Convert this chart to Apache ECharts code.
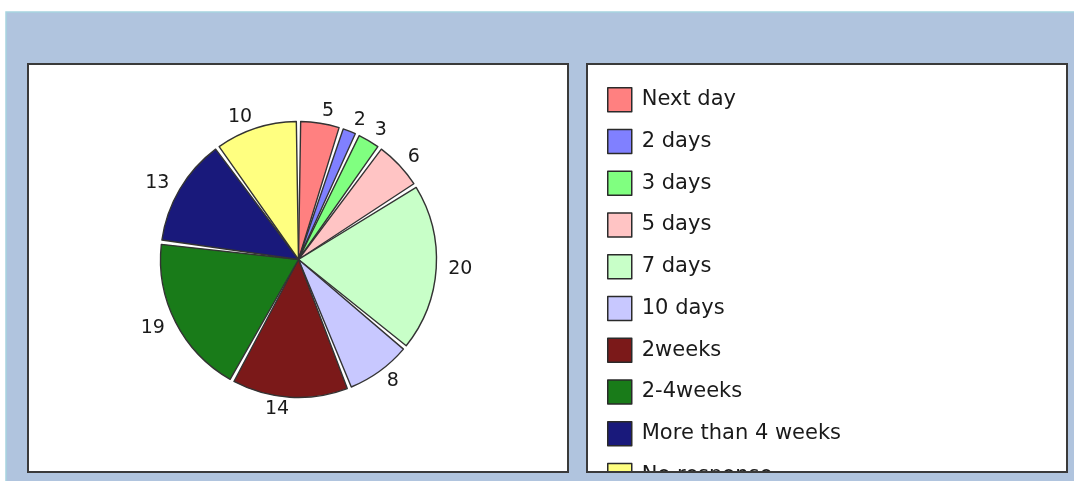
<!DOCTYPE html>
<html>
<head>
<meta charset="utf-8">
<style>
  html, body { margin: 0; padding: 0; background: #ffffff; }
  #chart { width: 1074px; height: 481px; }
</style>
<script src="https://cdn.jsdelivr.net/npm/echarts@6/dist/echarts.min.js"></script>
</head>
<body>
<div id="chart"></div>
<script>
// Response-time categories, counts and slice colours
const categories = ['Next day', '2 days', '3 days', '5 days', '7 days', '10 days', '2weeks', '2-4weeks', 'More than 4 weeks', 'No response'];
const counts = [5, 2, 3, 6, 20, 8, 14, 19, 13, 10];
const colors = ['#ff8080', '#8080ff', '#80ff80', '#ffc4c4', '#c8ffc8', '#c8c8ff', '#7b1919', '#197b19', '#19197b', '#ffff80'];

const pieData = categories.map((name, i) => ({
  name: name,
  value: counts[i],
  itemStyle: { color: colors[i] }
}));

const chart = echarts.init(document.getElementById('chart'), null, { renderer: 'canvas' });

const labelFont = 'DejaVu Sans';
const bg = '#b0c4de';

chart.setOption({
  animation: false,
  backgroundColor: '#ffffff',
  graphic: [
    // page frame
    { type: 'rect', z: -10, shape: { x: 6, y: 12, width: 1080, height: 480 }, style: { fill: bg, stroke: '#a6d4e0', lineWidth: 1.5 }, silent: true },
    // plot panel and legend panel
    { type: 'rect', z: -9, shape: { x: 28, y: 64, width: 540, height: 408 }, style: { fill: '#ffffff', stroke: '#3a3a3a', lineWidth: 2 }, silent: true },
    { type: 'rect', z: -9, shape: { x: 587, y: 64, width: 480, height: 408 }, style: { fill: '#ffffff', stroke: '#3a3a3a', lineWidth: 2 }, silent: true },
    // strip below the legend panel that clips overflowing entries
    { type: 'rect', z: 100, shape: { x: 580, y: 473, width: 494, height: 10 }, style: { fill: bg }, silent: true },
    { type: 'line', z: 101, shape: { x1: 587, y1: 472, x2: 1067, y2: 472 }, style: { stroke: '#3a3a3a', lineWidth: 2 }, silent: true }
  ],
  legend: {
    orient: 'vertical',
    left: 607,
    top: 87,
    height: 460,
    padding: 0,
    itemWidth: 24,
    itemHeight: 24,
    itemGap: 16.25,
    icon: 'rect',
    itemStyle: { borderColor: '#2a2a2a', borderWidth: 1.5 },
    textStyle: { fontFamily: labelFont, fontSize: 21, color: '#1a1a1a', padding: [0, 0, 0, 5] },
    data: categories
  },
  series: [{
    type: 'pie',
    center: [298.5, 259.5],
    radius: 138,
    startAngle: 90,
    clockwise: true,
    padAngle: 1.8,
    avoidLabelOverlap: false,
    itemStyle: { borderColor: '#333333', borderWidth: 1.4 },
    label: {
      show: true,
      position: 'outside',
      formatter: '{c}',
      fontFamily: labelFont,
      fontSize: 19,
      color: '#1a1a1a',
      distanceToLabelLine: 0
    },
    labelLine: { show: false, length: 12, length2: 0 },
    emphasis: { disabled: true },
    data: pieData
  }]
});
</script>
</body>
</html>
